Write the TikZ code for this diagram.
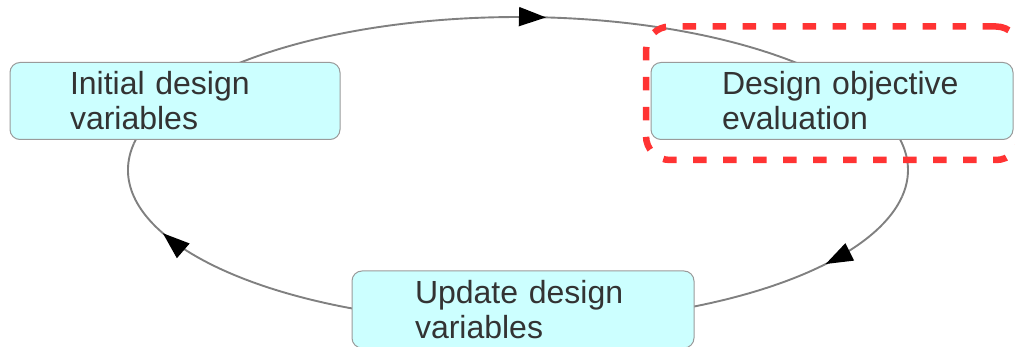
\documentclass[tikz,border=0pt]{standalone}
\usepackage{fontspec}
\setmainfont{Liberation Sans}
\usetikzlibrary{arrows.meta,decorations.markings,backgrounds,calc}

\definecolor{boxfill}{HTML}{CCFFFF}
\definecolor{boxline}{HTML}{9A9A9A}
\definecolor{boxtext}{HTML}{333333}
\definecolor{loopline}{HTML}{808080}
\definecolor{hlred}{HTML}{FF3333}

\tikzset{
  stepbox/.style={draw=boxline, line width=1pt, fill=boxfill, rounded corners=10pt,
    minimum height=77pt, inner xsep=0pt, inner ysep=0pt, align=left,
    text=boxtext, font=\fontsize{32}{35}\selectfont},
  textpad/.style={execute at begin node={\leftskip=#1\relax}},
  loop/.style={draw=loopline, line width=1.9pt},
  midarrow/.style={postaction={decorate}, decoration={markings,
    mark=at position #1 with {\arrow[black]{Triangle[length=27pt,width=19pt]}}}},
  highlight/.style={draw=hlred, line width=6.5pt, dash pattern=on 13.5pt off 16.5pt,
    rounded corners=24pt}
}

\begin{document}
\begin{tikzpicture}[x=1pt,y=1pt]
\useasboundingbox (0,0) rectangle (1015,-347);

% the three stages of the loop
\node (init) [stepbox, minimum width=330pt, text width=330pt, textpad=60pt]
  at (175,-101) {Initial design\\variables};
\node (eval) [stepbox, minimum width=362pt, text width=362pt, textpad=71pt]
  at (832,-101) {Design objective\\evaluation};
\node (upd) [stepbox, minimum width=342pt, text width=342pt, textpad=63pt]
  at (523,-309.5) {Update design\\variables};

% highlight frame round the evaluation stage
\node (hl) [highlight, minimum width=374pt, minimum height=133.5pt] at (833,-93.25) {};

% elliptical cycle behind the stages
\coordinate (O) at (518,-170);
\coordinate (initout) at ($(O)+(134.8:390pt and 153pt)$);
\coordinate (evalout) at ($(O)+(-10:390pt and 153pt)$);
\coordinate (updout)  at ($(O)+(-115:390pt and 153pt)$);
\begin{scope}[on background layer]
  \draw[loop, midarrow=0.55] (initout) arc[start angle=134.8, end angle=45.2,
    x radius=390pt, y radius=153pt];
  \draw[loop] ($(O)+(45.2:390pt and 153pt)$) arc[start angle=45.2, end angle=-10,
    x radius=390pt, y radius=153pt];
  \draw[loop, midarrow=0.43] (evalout) arc[start angle=-10, end angle=-63,
    x radius=390pt, y radius=153pt];
  \draw[loop] ($(O)+(-63:390pt and 153pt)$) arc[start angle=-63, end angle=-115,
    x radius=390pt, y radius=153pt];
  \draw[loop, midarrow=0.67] (updout) arc[start angle=-115, end angle=-190,
    x radius=390pt, y radius=153pt];
  \draw[loop] ($(O)+(-190:390pt and 153pt)$) arc[start angle=-190, end angle=-225.2,
    x radius=390pt, y radius=153pt];
\end{scope}
\end{tikzpicture}
\end{document}
